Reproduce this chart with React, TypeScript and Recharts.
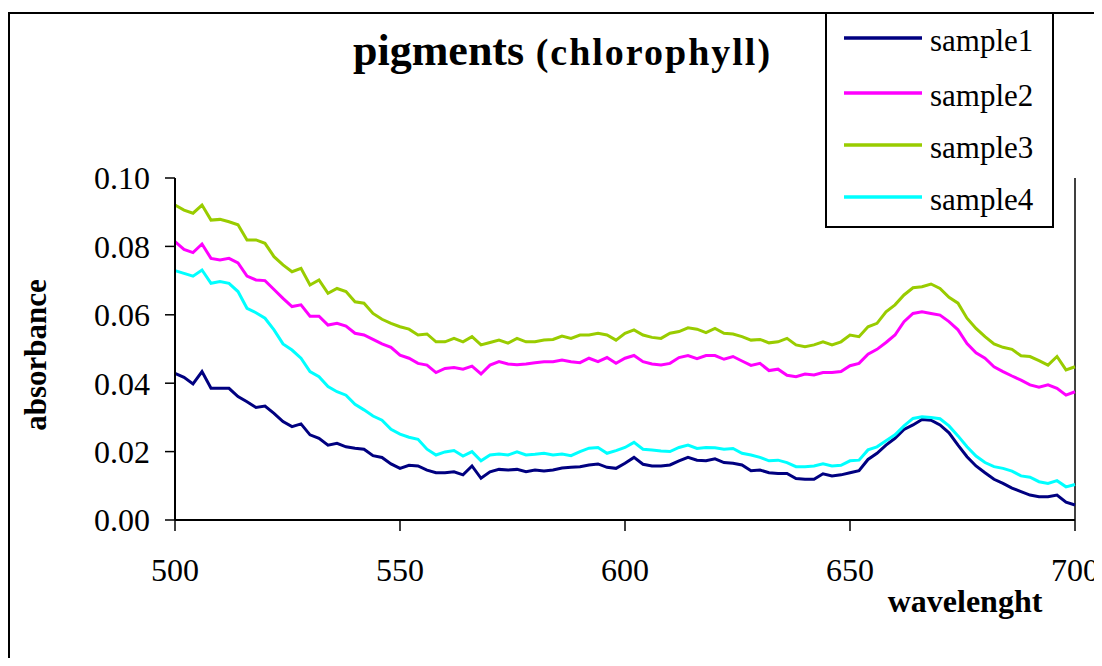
import { Line, LineChart, ReferenceLine, XAxis, YAxis } from "recharts"

// wavelength grid (nm), read every 2 nm
const wavelengths = [
  500, 502, 504, 506, 508, 510, 512, 514, 516, 518, 520, 522, 524, 526, 528, 530, 532, 534,
  536, 538, 540, 542, 544, 546, 548, 550, 552, 554, 556, 558, 560, 562, 564, 566,
  568, 570, 572, 574, 576, 578, 580, 582, 584, 586, 588, 590, 592, 594, 596, 598, 600,
  602, 604, 606, 608, 610, 612, 614, 616, 618, 620, 622, 624, 626, 628, 630, 632, 634,
  636, 638, 640, 642, 644, 646, 648, 650, 652, 654, 656, 658, 660, 662, 664, 666,
  668, 670, 672, 674, 676, 678, 680, 682, 684, 686, 688, 690, 692, 694, 696, 698, 700,
]

const sample1 = [
  0.0429, 0.0417, 0.0398, 0.0434, 0.0385, 0.0385, 0.0385, 0.0361, 0.0346, 0.0329, 0.0333, 0.0312, 0.0288, 0.0273, 0.0281, 0.0249, 0.0239, 0.0219,
  0.0224, 0.0214, 0.021, 0.0207, 0.0188, 0.0183, 0.0164, 0.0151, 0.016, 0.0158, 0.0146, 0.0138, 0.0138, 0.0141, 0.0132, 0.0158,
  0.0122, 0.0141, 0.0148, 0.0146, 0.0148, 0.0141, 0.0146, 0.0143, 0.0146, 0.0152, 0.0154, 0.0156, 0.0161, 0.0164, 0.0154, 0.0151, 0.0166,
  0.0183, 0.0163, 0.0158, 0.0158, 0.0161, 0.0173, 0.0183, 0.0175, 0.0173, 0.0179, 0.0168, 0.0166, 0.0161, 0.0144, 0.0146, 0.0138, 0.0136,
  0.0136, 0.0121, 0.0119, 0.0119, 0.0135, 0.0129, 0.0132, 0.0138, 0.0144, 0.0177, 0.0195, 0.0219, 0.0239, 0.0265, 0.0278, 0.0294,
  0.0292, 0.0278, 0.0255, 0.0219, 0.0185, 0.0158, 0.0138, 0.0119, 0.0107, 0.0093, 0.0083, 0.0073, 0.0068, 0.0068, 0.0073, 0.0052, 0.0044,
]

const sample2 = [
  0.0814, 0.0791, 0.0782, 0.0807, 0.0765, 0.076, 0.0765, 0.0752, 0.0713, 0.0702, 0.07, 0.0674, 0.0648, 0.0624, 0.0629, 0.0596, 0.0596, 0.057,
  0.0575, 0.0567, 0.0546, 0.0541, 0.0528, 0.0515, 0.0505, 0.0482, 0.0473, 0.0458, 0.0453, 0.0431, 0.0443, 0.0446, 0.0441, 0.045,
  0.0427, 0.0453, 0.0463, 0.0456, 0.0454, 0.0456, 0.046, 0.0463, 0.0463, 0.0468, 0.0463, 0.046, 0.0473, 0.0463, 0.0475, 0.0458, 0.0473,
  0.0481, 0.0463, 0.0456, 0.0453, 0.0458, 0.0475, 0.0481, 0.0472, 0.0481, 0.0481, 0.047, 0.0478, 0.0465, 0.0452, 0.0458, 0.0437, 0.0441,
  0.0423, 0.0419, 0.0427, 0.0424, 0.0431, 0.0431, 0.0434, 0.0451, 0.0458, 0.0485, 0.0499, 0.0519, 0.0541, 0.058, 0.0604, 0.0609,
  0.0604, 0.0599, 0.058, 0.0556, 0.0516, 0.0489, 0.0473, 0.0448, 0.0434, 0.0421, 0.0409, 0.0395, 0.0388, 0.0395, 0.0385, 0.0365, 0.0375,
]

const sample3 = [
  0.0921, 0.0906, 0.0897, 0.0921, 0.0877, 0.0879, 0.0872, 0.0863, 0.0819, 0.0819, 0.0809, 0.077, 0.0746, 0.0726, 0.0736, 0.0687, 0.0702, 0.0663,
  0.0677, 0.0668, 0.0638, 0.0634, 0.0604, 0.0587, 0.0575, 0.0565, 0.0558, 0.0541, 0.0544, 0.0521, 0.0521, 0.0531, 0.0521, 0.0536,
  0.0512, 0.0519, 0.0526, 0.0517, 0.0531, 0.0521, 0.0521, 0.0526, 0.0528, 0.0538, 0.0531, 0.0541, 0.0541, 0.0546, 0.0541, 0.0526, 0.0546,
  0.0556, 0.0541, 0.0534, 0.0531, 0.0546, 0.0551, 0.0562, 0.0558, 0.0548, 0.056, 0.0546, 0.0544, 0.0536, 0.0526, 0.0528, 0.0518, 0.0521,
  0.0531, 0.0512, 0.0507, 0.0512, 0.0521, 0.0512, 0.0521, 0.0541, 0.0536, 0.0565, 0.0575, 0.0609, 0.0629, 0.0658, 0.0679, 0.0682,
  0.069, 0.0677, 0.0651, 0.0634, 0.059, 0.056, 0.0536, 0.0515, 0.0505, 0.0499, 0.048, 0.0478, 0.0466, 0.0453, 0.0478, 0.0439, 0.0448,
]

const sample4 = [
  0.0729, 0.0721, 0.0713, 0.0731, 0.0692, 0.0697, 0.0692, 0.0668, 0.0619, 0.0606, 0.059, 0.0556, 0.0515, 0.0497, 0.0473, 0.0434, 0.0419, 0.039,
  0.0375, 0.0365, 0.0338, 0.0322, 0.0304, 0.0292, 0.0265, 0.0251, 0.0242, 0.0236, 0.0207, 0.019, 0.0199, 0.0203, 0.0187, 0.02,
  0.0173, 0.019, 0.0193, 0.019, 0.0199, 0.019, 0.0192, 0.0195, 0.019, 0.0193, 0.0188, 0.02, 0.021, 0.0212, 0.0195, 0.0203, 0.0212,
  0.0227, 0.0207, 0.0205, 0.0202, 0.02, 0.0212, 0.0219, 0.0209, 0.0212, 0.0211, 0.0207, 0.0209, 0.0195, 0.019, 0.0183, 0.0173, 0.0175,
  0.0168, 0.0156, 0.0156, 0.0158, 0.0164, 0.0158, 0.016, 0.0173, 0.0175, 0.0205, 0.0214, 0.0232, 0.0249, 0.0275, 0.0297, 0.0302,
  0.03, 0.0296, 0.0275, 0.0246, 0.0214, 0.0187, 0.0168, 0.0156, 0.0151, 0.0143, 0.0129, 0.0125, 0.0112, 0.0107, 0.0115, 0.0097, 0.0104,
]

const xTicks = [500, 550, 600, 650, 700]
const yTicks = [0, 0.02, 0.04, 0.06, 0.08, 0.1]

const series = [
  { key: "sample1", color: "#000080", values: sample1 },
  { key: "sample2", color: "#FF00FF", values: sample2 },
  { key: "sample3", color: "#99CC00", values: sample3 },
  { key: "sample4", color: "#00FFFF", values: sample4 },
]

const data = wavelengths.map((nm, i) => {
  const row: Record<string, number> = { nm }
  series.forEach((s) => {
    row[s.key] = s.values[i]
  })
  return row
})

const FONT = "Liberation Serif"
const W = 1094
const H = 650

// tick labels drawn as plain svg text so the serif font sticks
function XTick(props: any) {
  const { x, y, payload } = props
  return (
    <text x={x} y={y} dy="0.71em" textAnchor="middle" fontSize={32} fontFamily={FONT} fill="#000">
      {payload.value}
    </text>
  )
}

function YTick(props: any) {
  const { x, y, payload } = props
  return (
    <text x={x} y={y} dy="0.355em" textAnchor="end" fontSize={32} fontFamily={FONT} fill="#000">
      {Number(payload.value).toFixed(2)}
    </text>
  )
}

function Overlay() {
  const legendY = [30, 85, 137, 189]
  return (
    <svg
      width={W}
      height={H}
      style={{ position: "absolute", left: 0, top: 0, pointerEvents: "none" }}
      fontFamily={FONT}
    >
      {/* outer frame */}
      <line x1={0} y1={5} x2={W} y2={5} stroke="#000" strokeWidth={2} />
      <line x1={1} y1={4} x2={1} y2={H} stroke="#000" strokeWidth={2} />

      {/* title */}
      <text x={345} y={57} fontWeight="bold" fill="#000">
        <tspan fontSize={44}>pigments</tspan>
        <tspan fontSize={38} letterSpacing={2}> (chlorophyll)</tspan>
      </text>

      {/* legend */}
      <rect x={818} y={5} width={227} height={214} fill="#fff" stroke="#000" strokeWidth={2} />
      {series.map((s, i) => (
        <g key={s.key}>
          <line x1={836} y1={legendY[i]} x2={914} y2={legendY[i]} stroke={s.color} strokeWidth={3.5} />
          <text x={922} y={legendY[i] + 13} fontSize={31} fill="#000">
            {s.key}
          </text>
        </g>
      ))}

      {/* axis titles */}
      <text
        x={38}
        y={347}
        transform="rotate(-90 38 347)"
        textAnchor="middle"
        fontSize={31}
        fontWeight="bold"
        fill="#000"
      >
        absorbance
      </text>
      <text x={957} y={604} textAnchor="middle" fontSize={32} fontWeight="bold" fill="#000">
        wavelenght
      </text>
    </svg>
  )
}

export default function App() {
  return (
    <div style={{ position: "relative", width: W, height: H, background: "#fff", overflow: "hidden", fontFamily: FONT }}>
      <div style={{ position: "absolute", left: 0, top: 0 }}>
        <LineChart width={W} height={H} data={data} margin={{ top: 170, right: 27, bottom: 78, left: 67 }}>
          <XAxis
            type="number"
            dataKey="nm"
            domain={[500, 700]}
            ticks={xTicks}
            height={60}
            tickSize={11}
            tickMargin={27}
            tick={<XTick />}
            axisLine={{ stroke: "#000", strokeWidth: 2 }}
            tickLine={{ stroke: "#000", strokeWidth: 1.5 }}
          />
          <YAxis
            domain={[0, 0.1]}
            ticks={yTicks}
            width={100}
            tickSize={10}
            tickMargin={15}
            tick={<YTick />}
            axisLine={{ stroke: "#000", strokeWidth: 2 }}
            tickLine={{ stroke: "#000", strokeWidth: 1.5 }}
          />
          <ReferenceLine x={700} stroke="#000" strokeWidth={1.5} />
          {series.map((s) => (
            <Line
              key={s.key}
              type="linear"
              dataKey={s.key}
              stroke={s.color}
              strokeWidth={3}
              dot={false}
              activeDot={false}
              isAnimationActive={false}
            />
          ))}
        </LineChart>
      </div>
      <Overlay />
    </div>
  )
}
